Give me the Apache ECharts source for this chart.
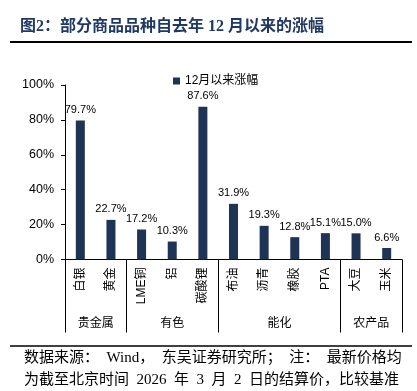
<!DOCTYPE html>
<html>
<head>
<meta charset="utf-8">
<script src="https://cdn.jsdelivr.net/npm/echarts@6/dist/echarts.min.js"></script>
<style>
  html, body { margin: 0; padding: 0; background: #fff; }
  #chart { width: 417px; height: 391px; }
</style>
</head>
<body>
<div id="chart"></div>
<script>
// Данные
const categories = ['白银', '黄金', 'LME铜', '铝', '碳酸锂', '布油', '沥青', '橡胶', 'PTA', '大豆', '玉米'];
const values = [79.7, 22.7, 17.2, 10.3, 87.6, 31.9, 19.3, 12.8, 15.1, 15.0, 6.6];
const groups = ['贵金属', '有色', '能化', '农产品'];
const groupBounds = [0, 2, 5, 9, 11];
const yTicks = [0, 20, 40, 60, 80, 100];
const seriesName = '12月以来涨幅';

// Центры групп для подписей
const groupCenters = groups.map((g, i) => (groupBounds[i] + groupBounds[i + 1]) / 2);

const sansFont = '"Liberation Sans", "Noto Sans CJK SC", sans-serif';
const serifFont = '"Liberation Serif", "Noto Sans CJK SC", serif';
const sp = '\u2002';

const chart = echarts.init(document.getElementById('chart'));

const option = {
    animation: false,
    grid: { left: 65, right: 15, top: 85, bottom: 131.5 },
    legend: {
        data: [seriesName],
        left: 168,
        top: 70,
        icon: 'rect',
        itemWidth: 7,
        itemHeight: 7,
        itemGap: 4,
        textStyle: { fontSize: 12, color: '#000', fontFamily: sansFont }
    },
    xAxis: [
        {
            type: 'category',
            data: categories,
            position: 'bottom',
            axisLine: { lineStyle: { color: '#000', width: 1 } },
            axisTick: { length: 47, alignWithLabel: false, lineStyle: { color: '#444' } },
            axisLabel: {
                rotate: 90,
                margin: 8,
                fontSize: 12,
                color: '#000',
                fontFamily: sansFont,
                interval: 0
            }
        },
        {
            type: 'value',
            min: 0,
            max: 11,
            position: 'bottom',
            splitLine: { show: false },
            axisLine: { show: false },
            axisTick: {
                show: true,
                length: 73,
                customValues: groupBounds,
                lineStyle: { color: '#000' }
            },
            axisLabel: {
                margin: 58,
                fontSize: 12,
                color: '#000',
                fontFamily: sansFont,
                customValues: groupCenters,
                formatter: v => groups[groupCenters.indexOf(v)] || ''
            }
        }
    ],
    yAxis: {
        type: 'value',
        min: yTicks[0],
        max: yTicks[yTicks.length - 1],
        interval: 20,
        splitLine: { show: false },
        axisLine: { show: true, lineStyle: { color: '#000' } },
        axisTick: { show: true, length: 4, lineStyle: { color: '#000' } },
        axisLabel: {
            margin: 11,
            fontSize: 12.5,
            color: '#000',
            fontFamily: sansFont,
            formatter: '{value}%'
        }
    },
    series: [{
        name: seriesName,
        type: 'bar',
        data: values,
        barWidth: 9,
        itemStyle: { color: '#1f3354' },
        label: {
            show: true,
            position: 'top',
            distance: 5,
            fontSize: 11,
            color: '#000',
            fontFamily: sansFont,
            formatter: p => p.value.toFixed(1) + '%'
        }
    }],
    graphic: [
        {
            type: 'text',
            left: 20,
            top: 19,
            style: {
                text: '图2：部分商品品种自去年 12 月以来的涨幅',
                fill: '#1f3864',
                font: 'bold 16px ' + serifFont
            }
        },
        {
            type: 'line',
            shape: { x1: 10, y1: 42, x2: 412, y2: 42 },
            style: { stroke: '#000', lineWidth: 2 }
        },
        {
            type: 'line',
            shape: { x1: 10, y1: 346, x2: 412, y2: 346 },
            style: { stroke: '#000', lineWidth: 1.5 }
        },
        {
            type: 'text',
            left: 24,
            top: 351,
            style: {
                text: '数据来源：' + sp + 'Wind，' + sp + '东吴证券研究所；' + sp + '注：' + sp + '最新价格均',
                fill: '#000',
                font: '15px ' + serifFont
            }
        },
        {
            type: 'text',
            left: 24,
            top: 373,
            style: {
                text: '为截至北京时间' + sp + '2026' + sp + '年' + sp + '3' + sp + '月' + sp + '2' + sp + '日的结算价，比较基准',
                fill: '#000',
                font: '15px ' + serifFont
            }
        }
    ]
};

chart.setOption(option);
</script>
</body>
</html>
